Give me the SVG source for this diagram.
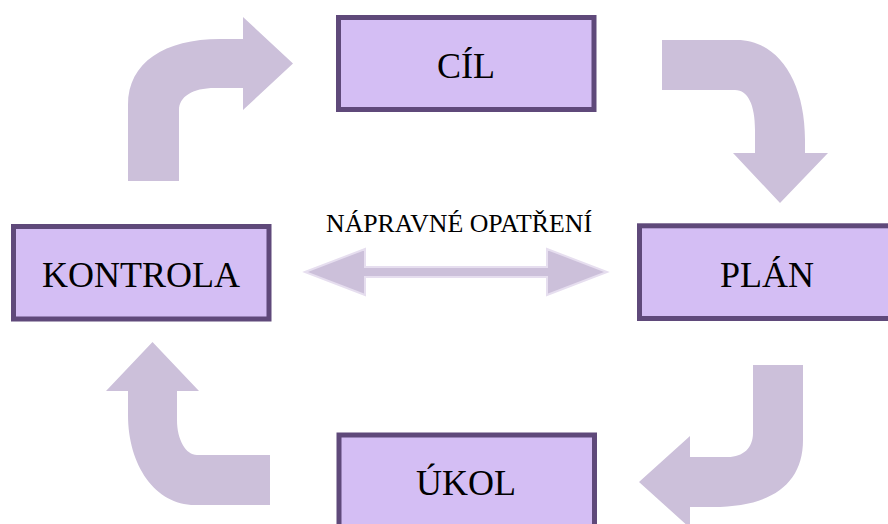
<svg xmlns="http://www.w3.org/2000/svg" width="888" height="524" viewBox="0 0 888 524">
<style>
.box{fill:#D4BEF4;stroke:#5F497A;stroke-width:5}
.lbl{font-family:"Liberation Serif","Times New Roman",serif;font-size:36px;fill:#000;text-anchor:middle}
.arr{fill:#CCC0DA;stroke:none}
.darr{fill:#CCC0DA;stroke:#E6DEEF;stroke-width:2;stroke-linejoin:miter}
.note{font-family:"Liberation Serif","Times New Roman",serif;font-size:25px;fill:#000;text-anchor:middle}
</style>
<rect width="888" height="524" fill="#FFFFFF"/>
<g id="connectors">
<path class="arr" d="M128,181 L128,105 C128,62 165,39 220,39 L243,39 L243,17 L293,63.5 L243,110 L243,88 L215,88 C192,88 179,97 179,110 L179,181 Z"/>
<path class="arr" d="M662,40 L737,40 C777,40 805,80 805,140 L805,153 L828,153 L780,203 L733,153 L755,153 L755,130 C755,105 748,90 735,90 L662,90 Z"/>
<path class="arr" d="M753,365 L803,365 L803,440 C803,485 770,507 713,507 L690,507 L690,528 L639,482 L690,436 L690,457 L728,457 C743,457 753,448 753,433 Z"/>
<path class="arr" d="M270,455 L197,455 C186,455 177,440 177,420 L177,391 L199,391 L152.5,342 L106,391 L128,391 L128,415 C128,465 155,505 195,505 L270,505 Z"/>
<path class="darr" d="M305,272 L365,249 L365,267 L547,267 L547,249 L607,272 L547,295 L547,277 L365,277 L365,295 Z"/>
<text class="note" x="459" y="231.5" textLength="266" lengthAdjust="spacingAndGlyphs">NÁPRAVNÉ OPATŘENÍ</text>
</g>
<g id="cil">
<rect class="box" x="338.5" y="17.5" width="255.5" height="92"/>
<text class="lbl" x="466" y="78">CÍL</text>
</g>
<g id="plan">
<rect class="box" x="639.5" y="225.8" width="260" height="92.7"/>
<text class="lbl" x="767" y="287">PLÁN</text>
</g>
<g id="ukol">
<rect class="box" x="339" y="435" width="255.5" height="92"/>
<text class="lbl" x="466" y="495">ÚKOL</text>
</g>
<g id="kontrola">
<rect class="box" x="13.5" y="226.5" width="255.5" height="92.5"/>
<text class="lbl" x="141" y="287">KONTROLA</text>
</g>
</svg>
